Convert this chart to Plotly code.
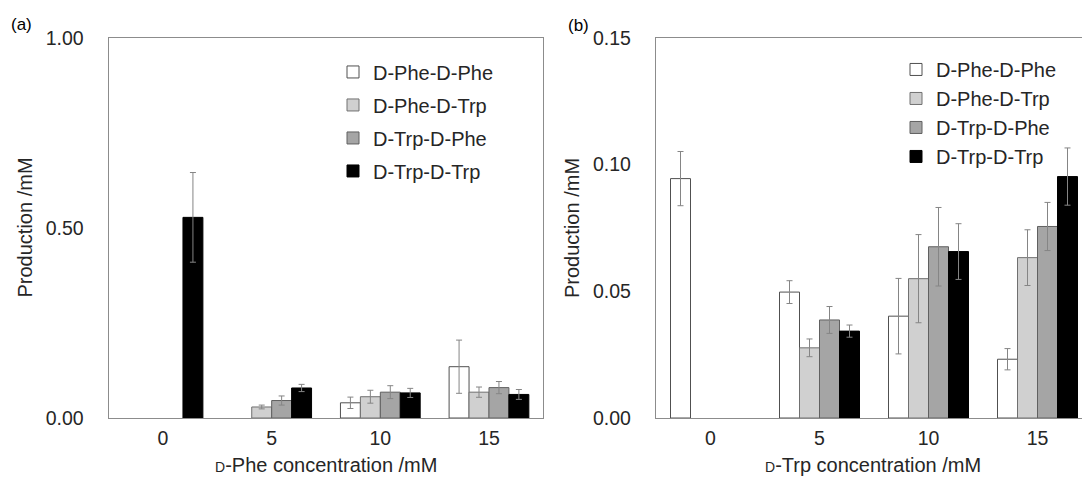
import plotly.graph_objects as go

# ---------------- data ----------------
categories = ["0", "5", "10", "15"]
series_names = ["D-Phe-D-Phe", "D-Phe-D-Trp", "D-Trp-D-Phe", "D-Trp-D-Trp"]

# (a) D-Phe concentration
phe_phe_a = [None, None, 0.040, 0.135]
phe_trp_a = [None, 0.029, 0.056, 0.068]
trp_phe_a = [None, 0.046, 0.068, 0.080]
trp_trp_a = [0.528, 0.079, 0.066, 0.062]
phe_phe_a_err = [None, None, 0.015, 0.070]
phe_trp_a_err = [None, 0.005, 0.017, 0.0135]
trp_phe_a_err = [None, 0.012, 0.017, 0.016]
trp_trp_a_err = [0.118, 0.0095, 0.012, 0.013]

# (b) D-Trp concentration
phe_phe_b = [0.0945, 0.0497, 0.0402, 0.0232]
phe_trp_b = [None, 0.0277, 0.0550, 0.0633]
trp_phe_b = [None, 0.0387, 0.0676, 0.0756]
trp_trp_b = [None, 0.0343, 0.0657, 0.0953]
phe_phe_b_err = [0.0107, 0.0045, 0.0149, 0.0042]
phe_trp_b_err = [None, 0.0035, 0.0174, 0.0110]
trp_phe_b_err = [None, 0.0053, 0.0155, 0.0095]
trp_trp_b_err = [None, 0.0024, 0.0110, 0.0113]

y_ticks_a = [0, 0.5, 1.0]
y_ticks_b = [0, 0.05, 0.10, 0.15]

# ---------------- style ----------------
FONT = "Liberation Sans, Arial, sans-serif"
fills = ["#ffffff", "#d0d0d0", "#a5a5a5", "#000000"]
edges = ["#505050", "#707070", "#606060", "#000000"]
ERR_COLOR = "#858585"
AXIS_COLOR = "#8c8c8c"
TEXT_COLOR = "#262626"

W, H = 1082, 481
M_T, M_B = 37.5, 62.5
PLOT_H = H - M_T - M_B

x_pos = list(range(len(categories)))

fig = go.Figure()

vals_a = [phe_phe_a, phe_trp_a, trp_phe_a, trp_trp_a]
errs_a = [phe_phe_a_err, phe_trp_a_err, trp_phe_a_err, trp_trp_a_err]
vals_b = [phe_phe_b, phe_trp_b, trp_phe_b, trp_trp_b]
errs_b = [phe_phe_b_err, phe_trp_b_err, trp_phe_b_err, trp_trp_b_err]

for i, name in enumerate(series_names):
    fig.add_trace(go.Bar(
        x=x_pos, y=vals_a[i], name=name, xaxis="x", yaxis="y",
        marker=dict(color=fills[i], line=dict(color=edges[i], width=1)),
        error_y=dict(type="data", array=errs_a[i], color=ERR_COLOR, thickness=1, width=3),
        legend="legend", legendgroup="a" + str(i), showlegend=True,
    ))
for i, name in enumerate(series_names):
    fig.add_trace(go.Bar(
        x=x_pos, y=vals_b[i], name=name, xaxis="x2", yaxis="y2",
        marker=dict(color=fills[i], line=dict(color=edges[i], width=1)),
        error_y=dict(type="data", array=errs_b[i], color=ERR_COLOR, thickness=1, width=3),
        legend="legend2", legendgroup="b" + str(i), showlegend=True,
    ))

def px_x(p):
    return p / W

def px_y(p):
    return (H - M_B - p) / PLOT_H

ax_common = dict(showline=True, linecolor=AXIS_COLOR, linewidth=1.3, showgrid=False,
                 zeroline=False, ticks="", tickfont=dict(family=FONT, size=19.5, color=TEXT_COLOR),
                 fixedrange=True)

fig.update_layout(
    width=W, height=H,
    margin=dict(l=0, r=0, t=M_T, b=M_B, pad=0),
    paper_bgcolor="white", plot_bgcolor="white",
    barmode="group", bargap=0.266, bargroupgap=0,
    font=dict(family=FONT, size=20, color=TEXT_COLOR),
    xaxis=dict(domain=[px_x(108.7), px_x(543.3)], range=[-0.5, 3.5], anchor="y",
               tickvals=x_pos, ticktext=categories, mirror=True, ticklabelstandoff=2, **ax_common),
    yaxis=dict(domain=[0, 1], range=[0, 1.0], anchor="x", tickvals=y_ticks_a,
               tickformat=".2f", mirror=True, ticklabelstandoff=20, **ax_common),
    xaxis2=dict(domain=[px_x(656), 1], range=[-0.5, -0.5 + (W - 656) / 109.0], anchor="y2",
                tickvals=x_pos, ticktext=categories, mirror=True, ticklabelstandoff=2, **ax_common),
    yaxis2=dict(domain=[0, 1], range=[0, 0.15], anchor="x2", tickvals=y_ticks_b,
                tickformat=".2f", mirror=False, ticklabelstandoff=20, **ax_common),
    legend=dict(x=px_x(333), xanchor="left", y=px_y(52), yanchor="top",
                bgcolor="rgba(0,0,0,0)", borderwidth=0, tracegroupgap=4,
                font=dict(family=FONT, size=20, color=TEXT_COLOR), traceorder="grouped"),
    legend2=dict(x=px_x(896), xanchor="left", y=px_y(49.5), yanchor="top",
                 bgcolor="rgba(0,0,0,0)", borderwidth=0, tracegroupgap=0,
                 font=dict(family=FONT, size=20, color=TEXT_COLOR), traceorder="normal"),
    showlegend=True,
)

small_d = "<span style='font-size:14px'>D</span>"
annotations = [
    dict(text="(a)", x=px_x(21), y=px_y(24), font=dict(size=17, color="#000")),
    dict(text="(b)", x=px_x(578), y=px_y(25), font=dict(size=17, color="#000")),
    dict(text="Production /mM", x=px_x(24.5), y=px_y(228), textangle=-90),
    dict(text="Production /mM", x=px_x(572), y=px_y(228), textangle=-90),
    dict(text=small_d + "-Phe concentration /mM", x=px_x(326), y=px_y(466)),
    dict(text=small_d + "-Trp concentration /mM", x=px_x(873), y=px_y(466)),
]
for a in annotations:
    a.update(xref="paper", yref="paper", showarrow=False, xanchor="center", yanchor="middle")
    a.setdefault("font", dict(size=20, color=TEXT_COLOR))
    a["font"].setdefault("family", FONT)
fig.update_layout(annotations=annotations)

fig.write_html("out.html", include_plotlyjs=True, config={"displayModeBar": False},
               post_script="document.body.style.margin='0';document.body.style.overflow='hidden';")
